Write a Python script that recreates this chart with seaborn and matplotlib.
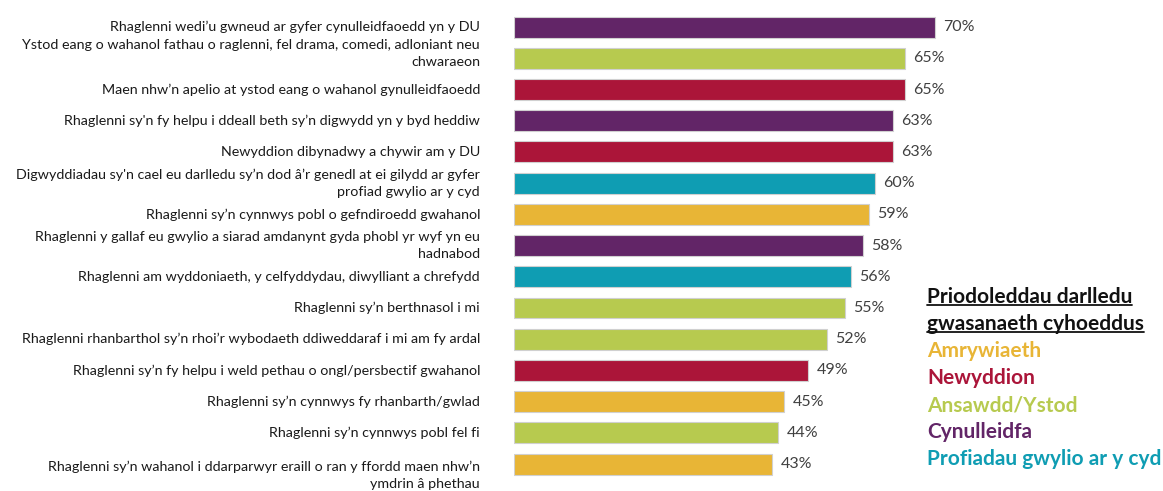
import matplotlib
matplotlib.use("Agg")
import matplotlib.pyplot as plt
import matplotlib.transforms as mtrans
import seaborn as sns
import pandas as pd

# Data
labels = [
    "Rhaglenni wedi\u2019u gwneud ar gyfer cynulleidfaoedd yn y DU",
    "Ystod eang o wahanol fathau o raglenni, fel drama, comedi, adloniant neu\nchwaraeon",
    "Maen nhw\u2019n apelio at ystod eang o wahanol gynulleidfaoedd",
    "Rhaglenni sy'n fy helpu i ddeall beth sy\u2019n digwydd yn y byd heddiw",
    "Newyddion dibynadwy a chywir am y DU",
    "Digwyddiadau sy'n cael eu darlledu sy\u2019n dod \u00e2\u2019r genedl at ei gilydd ar gyfer\nprofiad gwylio ar y cyd",
    "Rhaglenni sy\u2019n cynnwys pobl o gefndiroedd gwahanol",
    "Rhaglenni y gallaf eu gwylio a siarad amdanynt gyda phobl yr wyf yn eu\nhadnabod",
    "Rhaglenni am wyddoniaeth, y celfyddydau, diwylliant a chrefydd",
    "Rhaglenni sy\u2019n berthnasol i mi",
    "Rhaglenni rhanbarthol sy\u2019n rhoi\u2019r wybodaeth ddiweddaraf i mi am fy ardal",
    "Rhaglenni sy\u2019n fy helpu i weld pethau o ongl/persbectif gwahanol",
    "Rhaglenni sy\u2019n cynnwys fy rhanbarth/gwlad",
    "Rhaglenni sy\u2019n cynnwys pobl fel fi",
    "Rhaglenni sy\u2019n wahanol i ddarparwyr eraill o ran y ffordd maen nhw\u2019n\nymdrin \u00e2 phethau",
]
values = [70, 65, 65, 63, 63, 60, 59, 58, 56, 55, 52, 49, 45, 44, 43]
groups = [
    "Cynulleidfa", "Ansawdd/Ystod", "Newyddion", "Cynulleidfa", "Newyddion",
    "Profiadau gwylio ar y cyd", "Amrywiaeth", "Cynulleidfa",
    "Profiadau gwylio ar y cyd", "Ansawdd/Ystod", "Ansawdd/Ystod",
    "Newyddion", "Amrywiaeth", "Ansawdd/Ystod", "Amrywiaeth",
]
legend_title = ["Priodoleddau darlledu", "gwasanaeth cyhoeddus"]
legend_order = ["Amrywiaeth", "Newyddion", "Ansawdd/Ystod", "Cynulleidfa",
                "Profiadau gwylio ar y cyd"]

colours = {
    "Amrywiaeth": "#E8B536",
    "Newyddion": "#AB1539",
    "Ansawdd/Ystod": "#B7CA4F",
    "Cynulleidfa": "#622567",
    "Profiadau gwylio ar y cyd": "#0F9DB3",
}

df = pd.DataFrame({"label": labels, "value": values, "group": groups})

sns.set_style("white")
plt.rcParams["font.family"] = ["Lato", "DejaVu Sans"]

fig = plt.figure(figsize=(11.63, 4.91), dpi=100)
ax = fig.add_axes([0.442, 0.023, 0.558, 0.9536])

sns.barplot(data=df, y="label", x="value", hue="group", palette=colours,
            dodge=False, legend=False, width=0.67, orient="h", ax=ax,
            saturation=1, edgecolor="#d0d0d0", linewidth=0.8)

for cont in ax.containers:
    ax.bar_label(cont, fmt="%g%%", padding=6, fontsize=11.5, color="#404040")

ax.set_xlim(0, 108)
ax.set_xlabel("")
ax.set_ylabel("")
ax.set_xticks([])
ax.tick_params(axis="y", length=0)
sns.despine(ax=ax, left=True, bottom=True)

# category labels, right aligned a little left of the bars
# (the text boxes of the 2nd and the last label sit slightly off centre)
nudge = {1: 5, 14: -11}
ticks = ax.get_yticks()
ax.set_yticklabels([])
base = mtrans.blended_transform_factory(ax.transAxes, ax.transData)
for i, (pos, lab) in enumerate(zip(ticks, labels)):
    tr = mtrans.offset_copy(base, fig=fig, x=-34, y=nudge.get(i, 0),
                            units="dots")
    ax.text(0, pos, lab, transform=tr, ha="right", va="center",
            fontsize=10.25, color="#1a1a1a", linespacing=1.45,
            multialignment="right")

# legend drawn as coloured text
x0 = 927 / 1163
title_texts = []
for i, line in enumerate(legend_title):
    title_texts.append(fig.text(x0, 1 - (297 + 27 * i) / 491, line, fontsize=15,
                                fontweight="bold", color="#111111",
                                va="center", ha="left"))
for i, name in enumerate(legend_order):
    fig.text(x0, 1 - (351 + 27 * i) / 491, name, fontsize=15,
             fontweight="bold", color=colours[name], va="center", ha="left")

# underline the title lines
renderer = fig.canvas.get_renderer()
for t in title_texts:
    bb = t.get_window_extent(renderer).transformed(fig.transFigure.inverted())
    yy = bb.y0 + 2 / 491
    fig.add_artist(plt.Line2D([bb.x0, bb.x1], [yy, yy], color="#111111",
                              linewidth=1.3))

fig.savefig("out.png", dpi=100)
